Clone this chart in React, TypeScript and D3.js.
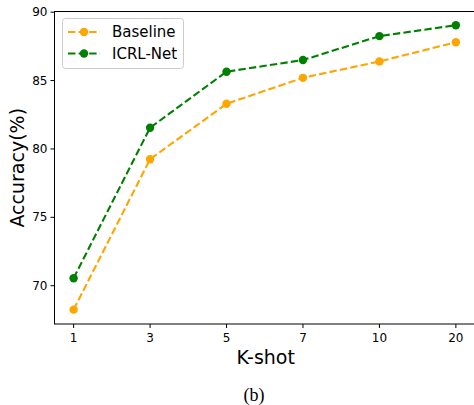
import React from "react";
import * as d3 from "d3";

const kShots = ["1", "3", "5", "7", "10", "20"];
const baseline = [68.25, 79.25, 83.3, 85.2, 86.4, 87.8];
const icrl = [70.55, 81.55, 85.65, 86.5, 88.25, 89.05];
const yTicks = [70, 75, 80, 85, 90];

const W = 474;
const H = 405;
const left = 54.5;
const right = 475;
const top = 11.5;
const bottom = 324;

export default function App() {
  const x = d3.scaleLinear().domain([-0.25, 5.25]).range([left, right]);
  const y = d3.scaleLinear().domain([67.2, 90.05]).range([bottom, top]);
  const line = d3
    .line<number>()
    .x((_, i) => x(i))
    .y((d) => y(d));
  const series = [
    { name: "Baseline", color: "#FFA500", values: baseline },
    { name: "ICRL-Net", color: "#008000", values: icrl },
  ];
  const font = "DejaVu Sans, sans-serif";
  return (
    <svg
      width={W}
      height={H}
      style={{ position: "absolute", left: 0, top: 0, background: "#fff" }}
    >
      <rect x={0} y={0} width={W} height={H} fill="#fff" />
      {/* y ticks */}
      {yTicks.map((t) => (
        <g key={t}>
          <line x1={left - 4} x2={left} y1={y(t)} y2={y(t)} stroke="#000" strokeWidth={1} />
          <text
            x={left - 7}
            y={y(t)}
            textAnchor="end"
            dominantBaseline="central"
            fontFamily={font}
            fontSize={12}
            fill="#000"
          >
            {t}
          </text>
        </g>
      ))}
      {/* x ticks */}
      {kShots.map((k, i) => (
        <g key={k}>
          <line x1={x(i)} x2={x(i)} y1={bottom} y2={bottom + 4} stroke="#000" strokeWidth={1} />
          <text
            x={x(i)}
            y={bottom + 14}
            textAnchor="middle"
            dominantBaseline="central"
            fontFamily={font}
            fontSize={12}
            fill="#000"
          >
            {k}
          </text>
        </g>
      ))}
      {/* lines */}
      {series.map((s) => (
        <g key={s.name}>
          <path
            d={line(s.values) || ""}
            fill="none"
            stroke={s.color}
            strokeWidth={2.1}
            strokeDasharray="7.4,3.2"
          />
          {s.values.map((v, i) => (
            <circle key={i} cx={x(i)} cy={y(v)} r={4.2} fill={s.color} />
          ))}
        </g>
      ))}
      {/* spines */}
      <rect
        x={left}
        y={top}
        width={right - left}
        height={bottom - top}
        fill="none"
        stroke="#000"
        strokeWidth={1}
      />
      {/* legend */}
      <rect x={62.5} y={18.5} width={121} height={50} rx={3} fill="#fff" fillOpacity={0.8} stroke="#ccc" strokeWidth={1} />
      {series.map((s, i) => {
        const ly = 32 + i * 21.5;
        return (
          <g key={s.name}>
            <line x1={68} x2={100} y1={ly} y2={ly} stroke={s.color} strokeWidth={2.1} strokeDasharray="7.4,3.2" />
            <circle cx={84} cy={ly} r={4.2} fill={s.color} />
            <text x={112} y={ly} dominantBaseline="central" fontFamily={font} fontSize={15} fill="#000">
              {s.name}
            </text>
          </g>
        );
      })}
      {/* axis labels */}
      <text
        x={(left + right) / 2 + 1}
        y={357}
        textAnchor="middle"
        dominantBaseline="central"
        fontFamily={font}
        fontSize={19}
        fill="#000"
      >
        K-shot
      </text>
      <text
        transform={`translate(17,${(top + bottom) / 2}) rotate(-90)`}
        textAnchor="middle"
        dominantBaseline="central"
        fontFamily={font}
        fontSize={19}
        fill="#000"
      >
        Accuracy(%)
      </text>
      <text
        x={254}
        y={395}
        textAnchor="middle"
        dominantBaseline="central"
        fontFamily="Liberation Serif, Times New Roman, serif"
        fontSize={18}
        fill="#000"
      >
        (b)
      </text>
    </svg>
  );
}
